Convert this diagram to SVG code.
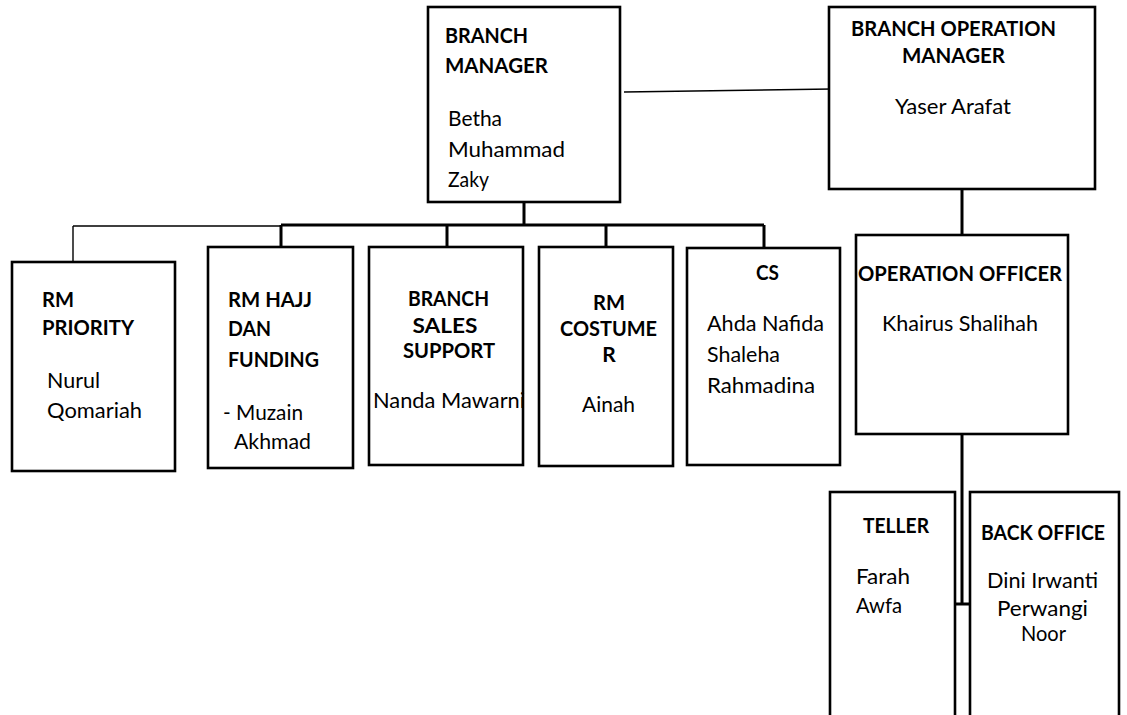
<svg xmlns="http://www.w3.org/2000/svg" width="1127" height="715" viewBox="0 0 1127 715">
<style>
.box{fill:#fff;stroke:#000;stroke-width:2.6}
.thick{fill:none;stroke:#000;stroke-width:3}
.thin{fill:none;stroke:#000;stroke-width:1.4}
text{font-family:Lato,"Open Sans","Liberation Sans",sans-serif;font-size:21px;fill:#000}
.b{font-weight:bold}
.m{text-anchor:middle}
</style>
<rect width="1127" height="715" fill="#fff"/>
<g id="connectors">
<path class="thin" d="M624 92 L832 89"/>
<path class="thick" d="M524 202 V225 M281 225 H764 M281 225 V247 M447 225 V247 M606 225 V247 M764 225 V248"/>
<path class="thin" d="M73 226 H281 M73 226 V262"/>
<path class="thick" d="M962 189 V235"/>
<path class="thick" d="M962 434 V604 M955 604 H970"/>
</g>
<g id="branch-manager">
<rect class="box" x="428" y="7" width="192" height="195"/>
<text class="b" x="445" y="43" textLength="83" lengthAdjust="spacingAndGlyphs">BRANCH</text>
<text class="b" x="445" y="73" textLength="103" lengthAdjust="spacingAndGlyphs">MANAGER</text>
<text x="448" y="126" textLength="54" lengthAdjust="spacingAndGlyphs">Betha</text>
<text x="448" y="157" textLength="117" lengthAdjust="spacingAndGlyphs">Muhammad</text>
<text x="448" y="187" textLength="41" lengthAdjust="spacingAndGlyphs">Zaky</text>
</g>
<g id="branch-operation-manager">
<rect class="box" x="829" y="7" width="266" height="182"/>
<text class="b m" x="953.5" y="36" textLength="205" lengthAdjust="spacingAndGlyphs">BRANCH OPERATION</text>
<text class="b m" x="953.5" y="63" textLength="103" lengthAdjust="spacingAndGlyphs">MANAGER</text>
<text class="m" x="953" y="114" textLength="116" lengthAdjust="spacingAndGlyphs">Yaser Arafat</text>
</g>
<g id="rm-priority">
<rect class="box" x="12" y="262" width="163" height="209"/>
<text class="b" x="42" y="307" textLength="32" lengthAdjust="spacingAndGlyphs">RM</text>
<text class="b" x="42" y="335" textLength="92" lengthAdjust="spacingAndGlyphs">PRIORITY</text>
<text x="47" y="388" textLength="53" lengthAdjust="spacingAndGlyphs">Nurul</text>
<text x="47" y="418" textLength="95" lengthAdjust="spacingAndGlyphs">Qomariah</text>
</g>
<g id="rm-hajj">
<rect class="box" x="208" y="247" width="145" height="221"/>
<text class="b" x="228" y="307" textLength="84" lengthAdjust="spacingAndGlyphs">RM HAJJ</text>
<text class="b" x="228" y="336" textLength="43" lengthAdjust="spacingAndGlyphs">DAN</text>
<text class="b" x="228" y="367" textLength="91" lengthAdjust="spacingAndGlyphs">FUNDING</text>
<text x="223" y="420" textLength="80" lengthAdjust="spacingAndGlyphs">- Muzain</text>
<text x="234" y="449" textLength="77" lengthAdjust="spacingAndGlyphs">Akhmad</text>
</g>
<g id="branch-sales-support">
<rect class="box" x="369" y="247" width="154" height="218"/>
<text class="b m" x="448.5" y="306" textLength="81" lengthAdjust="spacingAndGlyphs">BRANCH</text>
<text class="b m" x="445" y="333" textLength="65" lengthAdjust="spacingAndGlyphs">SALES</text>
<text class="b m" x="449" y="358" textLength="92" lengthAdjust="spacingAndGlyphs">SUPPORT</text>
<text class="m" x="449" y="408" textLength="152" lengthAdjust="spacingAndGlyphs">Nanda Mawarni</text>
</g>
<g id="rm-costumer">
<rect class="box" x="539" y="247" width="134" height="219"/>
<text class="b m" x="609" y="310" textLength="32" lengthAdjust="spacingAndGlyphs">RM</text>
<text class="b m" x="608.5" y="336" textLength="97" lengthAdjust="spacingAndGlyphs">COSTUME</text>
<text class="b m" x="609" y="362">R</text>
<text class="m" x="608.5" y="412" textLength="53" lengthAdjust="spacingAndGlyphs">Ainah</text>
</g>
<g id="cs">
<rect class="box" x="687" y="248" width="153" height="217"/>
<text class="b m" x="767.5" y="280" textLength="23" lengthAdjust="spacingAndGlyphs">CS</text>
<text x="707" y="331" textLength="117" lengthAdjust="spacingAndGlyphs">Ahda Nafida</text>
<text x="707" y="362" textLength="73" lengthAdjust="spacingAndGlyphs">Shaleha</text>
<text x="707" y="393" textLength="108" lengthAdjust="spacingAndGlyphs">Rahmadina</text>
</g>
<g id="operation-officer">
<rect class="box" x="856" y="235" width="212" height="199"/>
<text class="b m" x="960" y="281" textLength="204" lengthAdjust="spacingAndGlyphs">OPERATION OFFICER</text>
<text class="m" x="960" y="331" textLength="156" lengthAdjust="spacingAndGlyphs">Khairus Shalihah</text>
</g>
<g id="teller">
<rect class="box" x="830" y="492" width="125" height="250"/>
<text class="b m" x="896" y="533" textLength="66" lengthAdjust="spacingAndGlyphs">TELLER</text>
<text x="856" y="584" textLength="54" lengthAdjust="spacingAndGlyphs">Farah</text>
<text x="856" y="613" textLength="46" lengthAdjust="spacingAndGlyphs">Awfa</text>
</g>
<g id="back-office">
<rect class="box" x="970" y="492" width="149" height="250"/>
<text class="b m" x="1043" y="540" textLength="124" lengthAdjust="spacingAndGlyphs">BACK OFFICE</text>
<text class="m" x="1042.5" y="588" textLength="111" lengthAdjust="spacingAndGlyphs">Dini Irwanti</text>
<text class="m" x="1042.5" y="616" textLength="91" lengthAdjust="spacingAndGlyphs">Perwangi</text>
<text class="m" x="1043.5" y="641" textLength="45" lengthAdjust="spacingAndGlyphs">Noor</text>
</g>
</svg>
